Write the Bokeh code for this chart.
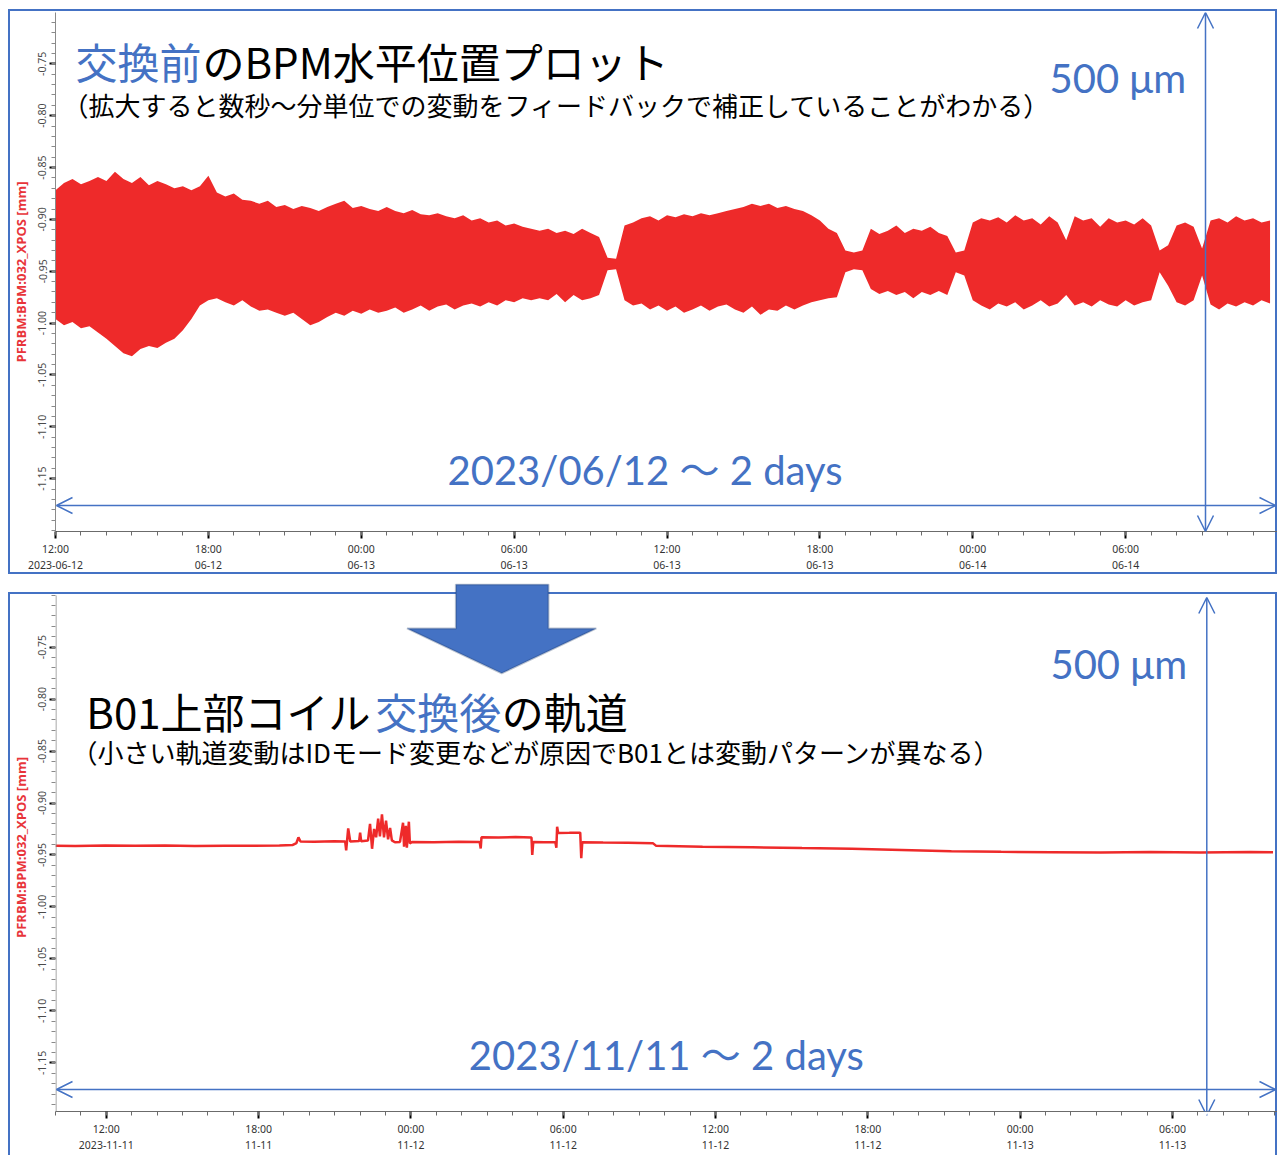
import pandas as pd
from bokeh.plotting import figure
from bokeh.layouts import column
from bokeh.models import (FixedTicker, NumeralTickFormatter, PolyAnnotation,
                          Arrow, OpenHead, Label, Range1d)
from bokeh.embed import file_html
from bokeh.resources import INLINE

BLUE = "#4472C4"
RED = "#EE2A2A"
HOUR = 3600e3

# ---------------- data: top panel (before exchange), envelope every 20 min ----------------
top_start = "2023-06-12 12:00"
top_step_minutes = 20
top_upper = [
    -0.872, -0.865, -0.861, -0.866, -0.863, -0.859, -0.863, -0.854, -0.861, -0.865,
    -0.859, -0.867, -0.863, -0.866, -0.870, -0.868, -0.872, -0.868, -0.858, -0.874,
    -0.878, -0.875, -0.881, -0.882, -0.885, -0.882, -0.888, -0.886, -0.890, -0.887,
    -0.889, -0.892, -0.888, -0.885, -0.882, -0.889, -0.887, -0.890, -0.892, -0.888,
    -0.892, -0.894, -0.891, -0.895, -0.896, -0.894, -0.897, -0.899, -0.896, -0.901,
    -0.899, -0.903, -0.901, -0.906, -0.904, -0.907, -0.909, -0.911, -0.909, -0.913,
    -0.911, -0.914, -0.909, -0.913, -0.917, -0.937, -0.938, -0.906, -0.903, -0.899,
    -0.897, -0.901, -0.896, -0.898, -0.895, -0.897, -0.894, -0.896, -0.894, -0.892,
    -0.890, -0.888, -0.885, -0.887, -0.885, -0.889, -0.887, -0.890, -0.892, -0.896,
    -0.901, -0.909, -0.913, -0.930, -0.932, -0.930, -0.909, -0.914, -0.911, -0.906,
    -0.913, -0.909, -0.911, -0.907, -0.913, -0.916, -0.932, -0.930, -0.903, -0.899,
    -0.901, -0.898, -0.903, -0.896, -0.901, -0.899, -0.905, -0.897, -0.903, -0.920,
    -0.897, -0.901, -0.899, -0.907, -0.899, -0.903, -0.901, -0.905, -0.899, -0.906,
    -0.930, -0.925, -0.906, -0.903, -0.907, -0.928, -0.901, -0.899, -0.903, -0.897,
    -0.901, -0.899, -0.903, -0.901]
top_lower = [
    -0.996, -1.002, -0.999, -1.005, -1.003, -1.009, -1.015, -1.022, -1.029, -1.032,
    -1.025, -1.022, -1.024, -1.019, -1.015, -1.007, -0.996, -0.983, -0.978, -0.976,
    -0.980, -0.983, -0.978, -0.984, -0.988, -0.987, -0.990, -0.993, -0.990, -0.996,
    -1.002, -0.999, -0.994, -0.990, -0.993, -0.988, -0.991, -0.987, -0.990, -0.988,
    -0.985, -0.990, -0.987, -0.983, -0.988, -0.984, -0.982, -0.987, -0.983, -0.981,
    -0.984, -0.980, -0.983, -0.978, -0.980, -0.976, -0.978, -0.976, -0.978, -0.972,
    -0.980, -0.973, -0.978, -0.976, -0.973, -0.949, -0.948, -0.978, -0.983, -0.981,
    -0.987, -0.983, -0.988, -0.984, -0.990, -0.987, -0.983, -0.988, -0.984, -0.982,
    -0.987, -0.990, -0.984, -0.992, -0.987, -0.988, -0.983, -0.987, -0.983, -0.980,
    -0.978, -0.976, -0.975, -0.951, -0.948, -0.949, -0.967, -0.972, -0.969, -0.973,
    -0.970, -0.976, -0.970, -0.973, -0.969, -0.973, -0.951, -0.954, -0.978, -0.983,
    -0.987, -0.981, -0.984, -0.980, -0.987, -0.983, -0.978, -0.984, -0.981, -0.973,
    -0.983, -0.980, -0.984, -0.978, -0.982, -0.984, -0.978, -0.983, -0.980, -0.978,
    -0.951, -0.964, -0.980, -0.983, -0.978, -0.954, -0.982, -0.987, -0.981, -0.984,
    -0.980, -0.983, -0.978, -0.981]
top_tick_labels = ["12:00\n2023-06-12", "18:00\n06-12", "00:00\n06-13", "06:00\n06-13",
                   "12:00\n06-13", "18:00\n06-13", "00:00\n06-14", "06:00\n06-14", "12:00\n06-14"]

# ---------------- data: bottom panel (after exchange) ----------------
bottom_start = "2023-11-11 10:00"
bottom_hours = [
    0.00, 0.78, 1.96, 3.14, 4.31, 5.49, 6.67, 7.84, 8.82, 9.33, 9.49, 9.57, 9.65, 10.20, 10.98,
    11.41, 11.45, 11.53, 11.61, 11.96, 12.00, 12.04, 12.31, 12.39, 12.47, 12.55, 12.63, 12.71,
    12.78, 12.86, 12.94, 13.02, 13.10, 13.18, 13.25, 13.37, 13.57, 13.69, 13.73, 13.80, 13.84,
    13.92, 13.96, 14.04, 14.90, 15.88, 16.71, 16.75, 16.78, 17.45, 18.12, 18.75, 18.78, 18.82,
    19.25, 19.69, 19.73, 19.76, 19.80, 20.24, 20.67, 20.71, 20.75, 21.57, 22.55, 23.53, 23.65,
    25.49, 27.45, 29.41, 31.37, 33.33, 35.29, 37.25, 39.22, 41.18, 43.14, 45.10, 47.06, 47.96]
bottom_values = [
    -0.9410, -0.9413, -0.9408, -0.9412, -0.9409, -0.9414, -0.9410, -0.9412, -0.9409, -0.9405,
    -0.9385, -0.9330, -0.9370, -0.9372, -0.9368,
    -0.9370, -0.9455, -0.9245, -0.9370, -0.9366, -0.9285, -0.9368, -0.9360, -0.9200, -0.9440,
    -0.9250, -0.9330, -0.9150, -0.9320, -0.9110, -0.9330, -0.9170, -0.9350, -0.9240, -0.9360,
    -0.9378, -0.9374, -0.9190, -0.9420, -0.9220, -0.9430, -0.9180, -0.9390, -0.9376, -0.9378,
    -0.9373, -0.9376, -0.9437, -0.9330, -0.9333, -0.9328, -0.9332, -0.9500, -0.9376, -0.9378,
    -0.9377, -0.9430, -0.9229, -0.9288, -0.9287, -0.9285, -0.9530, -0.9378, -0.9381, -0.9383,
    -0.9386, -0.9410, -0.9420, -0.9426, -0.9434, -0.9441, -0.9452, -0.9464, -0.9470, -0.9473,
    -0.9476, -0.9472, -0.9476, -0.9471, -0.9473]
bottom_tick_labels = ["12:00\n2023-11-11", "18:00\n11-11", "00:00\n11-12", "06:00\n11-12",
                      "12:00\n11-12", "18:00\n11-12", "00:00\n11-13", "06:00\n11-13"]

y_tick_values = [-0.75, -0.80, -0.85, -0.90, -0.95, -1.00, -1.05, -1.10, -1.15]
y_label = "PFRBM:BPM:032_XPOS [mm]"


def ms(ts):
    return pd.Timestamp(ts).value / 1e6


# pixel -> data helpers (positions of decorations measured on the reference)
T0 = ms(top_start)
T0b = ms(bottom_start)


def tx(px):
    return T0 + (px - 55) / 25.48 * HOUR


def ty(py):
    return -0.70 - (py - 11.5) / 518.5 * 0.5


def bx(px):
    return T0b + (px - 50) / 25.49 * HOUR


def by(py):
    return -0.70 - (py - 594.6) / 520.8 * 0.5


def style_axes(p, ticks_ms, labels, minor_ms):
    p.xaxis.ticker = FixedTicker(ticks=ticks_ms, minor_ticks=minor_ms)
    p.xaxis.major_label_overrides = {t: l for t, l in zip(ticks_ms, labels)}
    p.xaxis.axis_line_color = "#6b6b6b"
    p.xaxis.major_tick_line_color = "black"
    p.xaxis.major_tick_line_width = 2
    p.xaxis.major_tick_out = 7
    p.xaxis.major_tick_in = 0
    p.xaxis.minor_tick_out = 4
    p.xaxis.minor_tick_in = 0
    p.xaxis.minor_tick_line_color = "#6b6b6b"
    p.xaxis.major_label_text_font = "Noto Sans"
    p.xaxis.major_label_text_font_size = "10.5px"
    p.xaxis.major_label_text_color = "#333333"
    p.xaxis.major_label_standoff = 3

    minor_y = [round(-0.70 - 0.01 * i, 2) for i in range(51)]
    p.yaxis.ticker = FixedTicker(ticks=y_tick_values, minor_ticks=minor_y)
    p.yaxis.formatter = NumeralTickFormatter(format="0.00")
    p.yaxis.axis_line_color = "#8a8a8a"
    p.yaxis.major_tick_line_color = "black"
    p.yaxis.major_tick_line_width = 2
    p.yaxis.major_tick_out = 6
    p.yaxis.major_tick_in = 0
    p.yaxis.minor_tick_out = 4
    p.yaxis.minor_tick_in = 0
    p.yaxis.minor_tick_line_color = "#8a8a8a"
    p.yaxis.major_label_orientation = "vertical"
    p.yaxis.major_label_text_font = "Noto Sans"
    p.yaxis.major_label_text_font_size = "10.5px"
    p.yaxis.major_label_text_color = "#4a4a4a"
    p.yaxis.major_label_standoff = 3
    p.yaxis.axis_label = y_label
    p.yaxis.axis_label_text_color = "#E8343A"
    p.yaxis.axis_label_text_font = "Open Sans"
    p.yaxis.axis_label_text_font_style = "bold"
    p.yaxis.axis_label_text_font_size = "13px"
    p.yaxis.axis_label_standoff = 6


def base_fig(height, x0, x1, y0, y1, mbl, mbt, mbb):
    p = figure(width=1277, height=height, x_axis_type="datetime",
               x_range=Range1d(x0, x1), y_range=Range1d(y0, y1),
               output_backend="svg", toolbar_location=None, title=None,
               min_border_left=mbl, min_border_right=0, min_border_top=mbt,
               min_border_bottom=mbb)
    p.outline_line_color = None
    p.grid.visible = False
    # transparent canvas: the blue panel frames are painted by the page behind it
    p.background_fill_color = None
    p.border_fill_color = None
    return p


def label(p, x, y, text, size, color, font="Noto Sans CJK JP"):
    p.add_layout(Label(x=x, y=y, text=text, text_font=font, text_font_size=size,
                       text_color=color, text_baseline="middle", text_align="left",
                       level="overlay"))


def dbl_arrow(p, xs, ys, xe, ye):
    p.add_layout(Arrow(x_start=xs, y_start=ys, x_end=xe, y_end=ye,
                       start=OpenHead(size=16, line_color=BLUE, line_width=1.5),
                       end=OpenHead(size=16, line_color=BLUE, line_width=1.5),
                       line_color=BLUE, line_width=1.5, level="overlay"))


NUM_FONT = "Lato, 'Noto Sans CJK JP'"

# ---------------- top figure ----------------
top_x = [T0 + k * top_step_minutes * 60e3 for k in range(len(top_upper))]
top_ticks = [ms(t) for t in pd.date_range(top_start, periods=len(top_tick_labels), freq="6h")]
tx_end = tx(1277)
top_minor = [T0 + h * HOUR for h in range(0, 49) if T0 + h * HOUR <= tx_end]

p1 = base_fig(575, T0, tx_end, ty(531), ty(12), 55, 12, 44)
style_axes(p1, top_ticks, top_tick_labels, top_minor)
p1.varea(x=top_x, y1=top_lower, y2=top_upper, fill_color=RED)

label(p1, tx(75), ty(60), "交換前", "42px", BLUE)
label(p1, tx(202), ty(60), "のBPM水平位置プロット", "42px", "black")
label(p1, tx(62), ty(104), "（拡大すると数秒～分単位での変動をフィードバックで補正していることがわかる）", "26px", "black")
label(p1, tx(1049), ty(77), "500 μm", "40px", BLUE, NUM_FONT)
label(p1, tx(447), ty(469), "2023/06/12 ～ 2 days", "40px", BLUE, NUM_FONT)
dbl_arrow(p1, tx(56), ty(505), tx(1275), ty(505))
dbl_arrow(p1, tx(1205), ty(12), tx(1205), ty(531))

# ---------------- bottom figure ----------------
bot_x = [T0b + h * HOUR for h in bottom_hours]
bot_ticks = [ms(t) for t in pd.date_range("2023-11-11 12:00", periods=len(bottom_tick_labels), freq="6h")]
bx_end = bx(1277)
bot_minor = [T0b + h * HOUR for h in range(0, 49) if T0b + h * HOUR <= bx_end]

# frame reaches up to y=583 so that the big arrow is not cut; the visible axis line starts at 595
p2 = base_fig(580, T0b, bx_end, by(1112), by(583), 50, 8, 43)
style_axes(p2, bot_ticks, bottom_tick_labels, bot_minor)
p2.yaxis.axis_line_color = None
p2.add_layout(Arrow(x_start=bx(50.5), y_start=by(595), x_end=bx(50.5), y_end=by(1112),
                    start=None, end=None, line_color="#8a8a8a", line_width=1))
p2.line(x=bot_x, y=bottom_values, line_color=RED, line_width=2.5)

label(p2, bx(81), by(710), "B01上部コイル", "42px", "black")
label(p2, bx(371), by(710), "交換後", "42px", BLUE)
label(p2, bx(498), by(710), "の軌道", "42px", "black")
label(p2, bx(66), by(751), "（小さい軌道変動はIDモード変更などが原因でB01とは変動パターンが異なる）", "26px", "black")
label(p2, bx(1049), by(664), "500 μm", "40px", BLUE, NUM_FONT)
label(p2, bx(465), by(1055), "2023/11/11 ～ 2 days", "40px", BLUE, NUM_FONT)
dbl_arrow(p2, bx(51), by(1090), bx(1275), by(1090))
dbl_arrow(p2, bx(1206), by(597), bx(1206), by(1116))

arrow_px = [(452, 584), (545, 584), (545, 628), (593, 628), (498, 673), (403, 628), (452, 628)]
p2.add_layout(PolyAnnotation(xs=[bx(a) for a, _ in arrow_px], ys=[by(b) for _, b in arrow_px],
                             fill_color=BLUE, fill_alpha=1, line_color="#1F3864", line_width=2,
                             level="overlay"))

# blue panel frames, painted as thin CSS background strips behind the transparent canvases
frame_strips = [  # (left, top, width, height) in page pixels
    (8, 9, 2, 565), (8, 9, 1269, 2), (1275, 9, 2, 565), (8, 572, 1269, 2),
    (8, 592, 2, 563), (8, 592, 1269, 2), (1275, 592, 2, 563),
]
grad = f"linear-gradient({BLUE}, {BLUE})"
page_styles = {
    "background-color": "white",
    "background-image": ", ".join([grad] * len(frame_strips)),
    "background-size": ", ".join(f"{w}px {h}px" for _, _, w, h in frame_strips),
    "background-position": ", ".join(f"{l}px {t}px" for l, t, _, _ in frame_strips),
    "background-repeat": "no-repeat",
}

layout = column(p1, p2, spacing=0, styles=page_styles)
open("out.html", "w").write(file_html(layout, INLINE))
